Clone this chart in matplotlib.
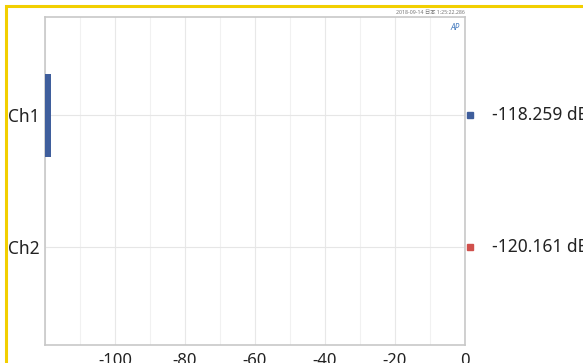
import matplotlib.pyplot as plt
from matplotlib.patches import Rectangle
from matplotlib.ticker import MultipleLocator

plt.rcParams['font.family'] = ['Noto Sans', 'Noto Sans CJK JP', 'DejaVu Sans']
plt.rcParams['axes.unicode_minus'] = False

channels = ["Ch1", "Ch2"]
levels_db = [-118.259, -120.161]
colors = ["#3F5E9C", "#D0504C"]
x_ticks = [-100, -80, -60, -40, -20, 0]
stamp = "2018-09-14 日本 1:25:22.286"

W, H = 583, 363
fig = plt.figure(figsize=(W / 100, H / 100), dpi=100)

# yellow outer frame
fig.patches.append(Rectangle((6 / W, -0.1), 1.2, (H - 6) / H + 0.1,
                             transform=fig.transFigure, fill=False,
                             edgecolor="#F2CF00", linewidth=2.2, zorder=0))

ax = fig.add_axes([45 / W, (H - 345) / H, (465 - 45) / W, (345 - 17) / H])
xmin = -120
ax.set_xlim(xmin, 0)
ax.set_ylim(1.75, -0.75)

ypos = list(range(len(channels)))
ax.barh(ypos, [v - xmin for v in levels_db], left=xmin, height=0.63,
        color=colors, zorder=3)

ax.set_xticks(x_ticks)
ax.xaxis.set_minor_locator(MultipleLocator(10))
ax.set_yticks(ypos)
ax.set_yticklabels(channels)
ax.grid(True, which="major", axis="x", color="#E8E8E8", linewidth=0.8, zorder=0)
ax.grid(True, which="minor", axis="x", color="#F1F1F1", linewidth=0.8, zorder=0)
ax.grid(True, axis="y", color="#E6E6E6", linewidth=0.8, zorder=0)
ax.tick_params(which="both", length=0)
ax.tick_params(axis="x", labelsize=12, pad=6, colors="#222222")
ax.tick_params(axis="y", labelsize=12.5, pad=4, colors="#222222")
for s in ax.spines.values():
    s.set_color("#C8C8C8")
    s.set_linewidth(1.2)

# readout markers and values on the right
for y, v, c in zip(ypos, levels_db, colors):
    ax.plot([1.0125], [y], marker="s", markersize=5, color=c,
            transform=ax.get_yaxis_transform(), clip_on=False)
    ax.text(1.065, y, f"{v:.3f} dB", transform=ax.get_yaxis_transform(),
            va="center", ha="left", fontsize=12.5, color="#222222", clip_on=False)

fig.text(430 / W, 1 - 12 / H, stamp, fontsize=3.8, color="#777777",
         ha="center", va="center")
fig.text(455 / W, 1 - 28 / H, "AP", fontsize=6, color="#4A7FC0",
         fontstyle="italic", fontweight="bold", ha="center", va="center")

fig.savefig("out.png", dpi=100)
